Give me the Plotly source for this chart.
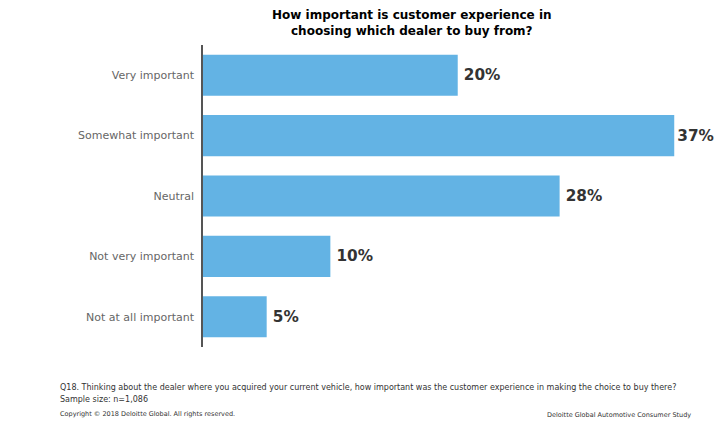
import plotly.graph_objects as go

categories = ["Very important", "Somewhat important", "Neutral", "Not very important", "Not at all important"]
values = [20, 37, 28, 10, 5]
# the largest value's label sits tight against its bar in the reference
labels = [f"{v}%" if v == max(values) else f"\u2009{v}%" for v in values]

FONT = "DejaVu Sans, Verdana, sans-serif"

fig = go.Figure(go.Bar(
    y=categories, x=values, orientation="h",
    marker=dict(color="#63B3E4", line=dict(width=0)),
    text=labels, textposition="outside", cliponaxis=False,
    textfont=dict(family=FONT, size=15.3, color="#333333", weight="bold"),
))

XMAX = 40.2
fig.update_layout(
    width=716, height=430,
    margin=dict(l=203, r=1, t=45, b=83),
    paper_bgcolor="white", plot_bgcolor="white",
    bargap=0.32,
    showlegend=False,
    xaxis=dict(range=[0, XMAX], visible=False, showgrid=False, zeroline=False),
    yaxis=dict(autorange="reversed", showgrid=False, zeroline=False,
               showline=True, linecolor="#555555", linewidth=1.5,
               ticks="", ticklabelstandoff=5,
               tickfont=dict(family=FONT, size=11, color="#666666")),
    font=dict(family=FONT),
)

def ann(text, xpx, ypx, size, color="#333333", bold=False, xanchor="left"):
    fig.add_annotation(
        text=f"<b>{text}</b>" if bold else text,
        x=(xpx - 203) / 512, y=(347 - ypx) / 302,
        xref="paper", yref="paper", showarrow=False,
        xanchor=xanchor, yanchor="middle", align="center",
        font=dict(family=FONT, size=size, color=color))

ann("How important is customer experience in<br>choosing which dealer to buy from?", 412, 23, 12, "#000000", True, "center")
ann("Q18. Thinking about the dealer where you acquired your current vehicle, how important was the customer experience in making the choice to buy there?", 58, 387, 8)
ann("Sample size: n=1,086", 58, 400, 8)
ann("Copyright © 2018 Deloitte Global. All rights reserved.", 58, 414, 6.5)
ann("Deloitte Global Automotive Consumer Study", 693, 415, 6.5, xanchor="right")

fig.write_html("out.html", config={"displayModeBar": False},
               post_script="document.body.style.margin='0';document.body.style.overflow='hidden';")
